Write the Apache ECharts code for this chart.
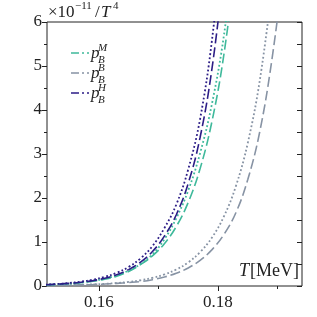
<!DOCTYPE html>
<html>
<head>
<meta charset="utf-8">
<script src="https://cdn.jsdelivr.net/npm/echarts@6/dist/echarts.min.js"></script>
<style>html,body{margin:0;padding:0;background:#fff}#c{width:317px;height:317px}</style>
</head>
<body>
<div id="c"></div>
<script>
// Temperature grid (GeV) and series values (x 1e-11 / T^4)
var temps = [0.151,0.153,0.155,0.157,0.159,0.161,0.163,0.165,0.167,0.169,0.171,0.173,0.175,0.177,0.179,0.181,0.183,0.185,0.187,0.189,0.191,0.193];
var pH_dotted = [0.0325,0.047,0.068,0.099,0.143,0.207,0.299,0.433,0.628,0.908,1.315,1.85,2.65,3.80,5.60,8.2];
var pH_dashed = [0.028,0.0405,0.0586,0.0853,0.123,0.178,0.258,0.373,0.541,0.783,1.134,1.62,2.33,3.38,4.95,7.2];
var pM_dotted = [0.026,0.038,0.055,0.08,0.115,0.166,0.24,0.35,0.50,0.72,1.06,1.54,2.17,3.02,4.15,5.7,7.9];
var pM_dashed = [0.024,0.035,0.051,0.074,0.107,0.155,0.224,0.33,0.488,0.685,0.962,1.352,1.899,2.669,3.749,5.268,7.40];
var pB_dotted = [0.012,0.016,0.021,0.028,0.037,0.05,0.068,0.094,0.13,0.185,0.262,0.375,0.537,0.770,1.104,1.583,2.268,3.251,4.660,6.679];
var pB_dashed = [0.011,0.015,0.02,0.026,0.034,0.045,0.06,0.078,0.101,0.144,0.204,0.289,0.410,0.582,0.826,1.172,1.664,2.42,3.5,5.1,7.2];
var xMajorTicks = [0.16, 0.18];
var xMinorTicks = [0.17, 0.19];
var legendNames = ['M','B','H'];

var cTeal = '#3fb99b', cGrey = '#8793a4', cDark = '#2c1d86';
var serif = 'Liberation Serif';

function pairs(v){ return v.map(function(y,i){ return [temps[i], y]; }); }
function line(name, vals, color, dash, w){
  return {name:name, type:'line', data:pairs(vals), smooth:0.4, showSymbol:false, clip:true,
    lineStyle:{color:color, width:w, type:dash, cap:'butt'}, silent:true};
}
var dashA = [10,4], dotA = [1.8,2.3];

var chart = echarts.init(document.getElementById('c'), null, {renderer:'canvas'});
var legendY = [53, 73, 93];
var legendColors = [cTeal, cGrey, cDark];
var graphics = [];
function txt(x,y,t,size,italic){
  return {type:'text', x:x, y:y, style:{text:t, fontFamily:serif, fontSize:size, fontStyle:italic?'italic':'normal', fill:'#222', textVerticalAlign:'middle'}};
}
legendNames.forEach(function(n,i){
  var y = legendY[i];
  graphics.push({type:'line', shape:{x1:71,y1:y,x2:89,y2:y}, style:{stroke:legendColors[i], lineWidth:1.6, lineDash:[8,3,2,3]}});
  graphics.push(txt(91, y+1, 'p', 17, true));
  graphics.push(txt(98, y-5, n, 11, true));
  graphics.push(txt(98, y+7, 'B', 11, true));
});
// y-axis unit label
graphics.push(txt(48, 13, '×10', 17, false));
graphics.push(txt(75, 6, '−11', 11, false));
graphics.push(txt(95, 13, '/', 17, false));
graphics.push(txt(101, 13, 'T', 17, true));
graphics.push(txt(113, 6, '4', 11, false));
// x-axis label inside plot
graphics.push(txt(239, 271, 'T', 18, true));
graphics.push(txt(250, 271, '[MeV]', 18, false));

chart.setOption({
  animation:false,
  backgroundColor:'#fff',
  textStyle:{fontFamily:serif},
  grid:{left:47, right:15, top:22, bottom:31, show:true, borderColor:'#222', borderWidth:1, backgroundColor:'transparent'},
  xAxis:[
    {type:'value', min:0.1513, max:0.1941, position:'bottom',
     axisLine:{show:false}, splitLine:{show:false},
     axisTick:{show:true, inside:false, length:5, lineStyle:{color:'#222'}, customValues:xMajorTicks},
     axisLabel:{show:true, customValues:xMajorTicks, color:'#222', fontFamily:serif, fontSize:17, margin:8,
       formatter:function(v){ return v.toFixed(2); }}},
    {type:'value', min:0.1513, max:0.1941, position:'bottom',
     axisLine:{show:false}, splitLine:{show:false}, axisLabel:{show:false},
     axisTick:{show:true, inside:false, length:3, lineStyle:{color:'#222'}, customValues:xMinorTicks}}
  ],
  yAxis:[
    {type:'value', min:0, max:6, interval:1, position:'left',
     axisLine:{show:false}, splitLine:{show:false},
     axisTick:{show:true, inside:false, length:5, lineStyle:{color:'#222'}},
     minorTick:{show:true, splitNumber:2, length:3, lineStyle:{color:'#222'}},
     axisLabel:{color:'#222', fontFamily:serif, fontSize:17, margin:5}},
    {type:'value', min:0, max:6, interval:0.5, position:'right',
     axisLine:{show:false}, splitLine:{show:false}, axisLabel:{show:false},
     axisTick:{show:true, inside:true, length:5, lineStyle:{color:'#222'}}}
  ],
  series:[
    line('pB dashed', pB_dashed, cGrey, dashA, 1.6),
    line('pB dotted', pB_dotted, cGrey, dotA, 1.8),
    line('pM dashed', pM_dashed, cTeal, dashA, 1.6),
    line('pM dotted', pM_dotted, cTeal, dotA, 1.8),
    line('pH dashed', pH_dashed, cDark, dashA, 1.6),
    line('pH dotted', pH_dotted, cDark, dotA, 1.8)
  ],
  graphic:graphics
});
</script>
</body>
</html>
